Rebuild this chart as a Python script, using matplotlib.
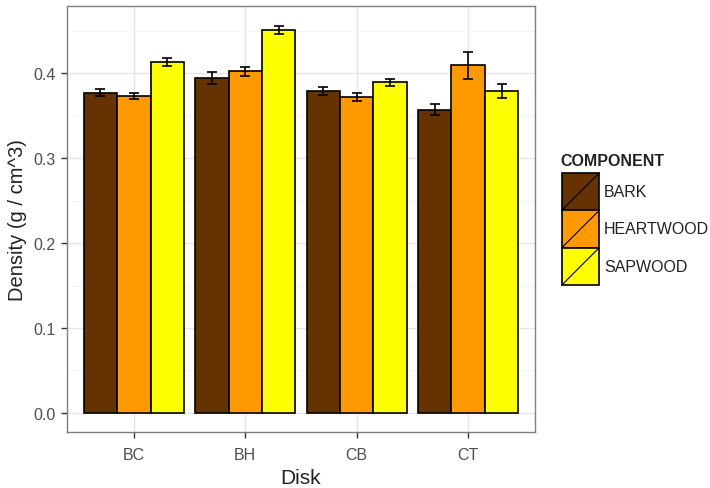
import matplotlib.pyplot as plt
import matplotlib.patches as mpatches
import matplotlib.lines as mlines
import numpy as np

plt.rcParams['font.family'] = ['Liberation Sans', 'DejaVu Sans']

# wood density by disk and component
disks = ["BC", "BH", "CB", "CT"]
components = ["BARK", "HEARTWOOD", "SAPWOOD"]
density = {
    "BARK":      [0.377, 0.394, 0.379, 0.357],
    "HEARTWOOD": [0.373, 0.402, 0.372, 0.409],
    "SAPWOOD":   [0.413, 0.451, 0.389, 0.379],
}
err = {
    "BARK":      [0.004, 0.007, 0.0045, 0.0067],
    "HEARTWOOD": [0.004, 0.005, 0.005, 0.016],
    "SAPWOOD":   [0.005, 0.005, 0.004, 0.008],
}
colors = ["#663300", "#FF9900", "#FFFF00"]

fig = plt.figure(figsize=(7.10, 4.89), dpi=100)
ax = fig.add_axes([67/710, 56/489, 468/710, 426/489])

x = np.arange(1, len(disks) + 1)
w = 0.3
for i, comp in enumerate(components):
    pos = x + (i - 1) * w
    ax.bar(pos, density[comp], width=w, color=colors[i], edgecolor="black",
           linewidth=1.2, zorder=3)
    ax.errorbar(pos, density[comp], yerr=err[comp], fmt="none", ecolor="black",
                elinewidth=1.2, capsize=3.5, capthick=1.2, zorder=4)

ax.set_xlim(0.4, 4.6)
ax.set_ylim(-0.0224, 0.479)
ax.set_xticks(x)
ax.set_xticklabels(disks)
ax.set_yticks([0.0, 0.1, 0.2, 0.3, 0.4])
ax.set_yticklabels(["0.0", "0.1", "0.2", "0.3", "0.4"])
ax.set_yticks([0.05, 0.15, 0.25, 0.35, 0.45], minor=True)
ax.tick_params(axis="y", which="minor", length=0)
ax.grid(True, which="major", color="#e5e5e5", linewidth=1.0, zorder=0)
ax.grid(True, which="minor", axis="y", color="#f2f2f2", linewidth=0.6, zorder=0)
ax.tick_params(which="major", length=4, width=1, color="#333333",
               labelcolor="#4d4d4d", labelsize=11.5)
ax.tick_params(axis="x", pad=7)
ax.tick_params(axis="y", pad=4)
for s in ax.spines.values():
    s.set_color("#7f7f7f")
    s.set_linewidth(1.0)

ax.set_xlabel("Disk", fontsize=15, color="#222222", labelpad=4)
ax.set_ylabel("Density (g / cm^3)", fontsize=14.5, color="#222222", labelpad=5)

# legend keys with the diagonal slash
fig.text(560/710, 1 - 161/489, "COMPONENT", fontsize=11.5, fontweight="bold",
         va="center", ha="left", color="#222222")
kx, ky0, ks = 562, 174, 37.3
for i, comp in enumerate(components):
    top = ky0 + i * ks
    rect = mpatches.Rectangle((kx/710, 1 - (top + ks)/489), ks/710, ks/489,
                              facecolor=colors[i], edgecolor="black",
                              linewidth=1.2, transform=fig.transFigure)
    fig.add_artist(rect)
    diag = mlines.Line2D([kx/710, (kx + ks)/710],
                         [1 - (top + ks)/489, 1 - top/489],
                         color="black", linewidth=0.8,
                         transform=fig.transFigure)
    fig.add_artist(diag)
    fig.text(604/710, 1 - (top + ks/2)/489, comp, fontsize=11.5,
             va="center", ha="left", color="#222222")

fig.savefig("out.png", dpi=100)
